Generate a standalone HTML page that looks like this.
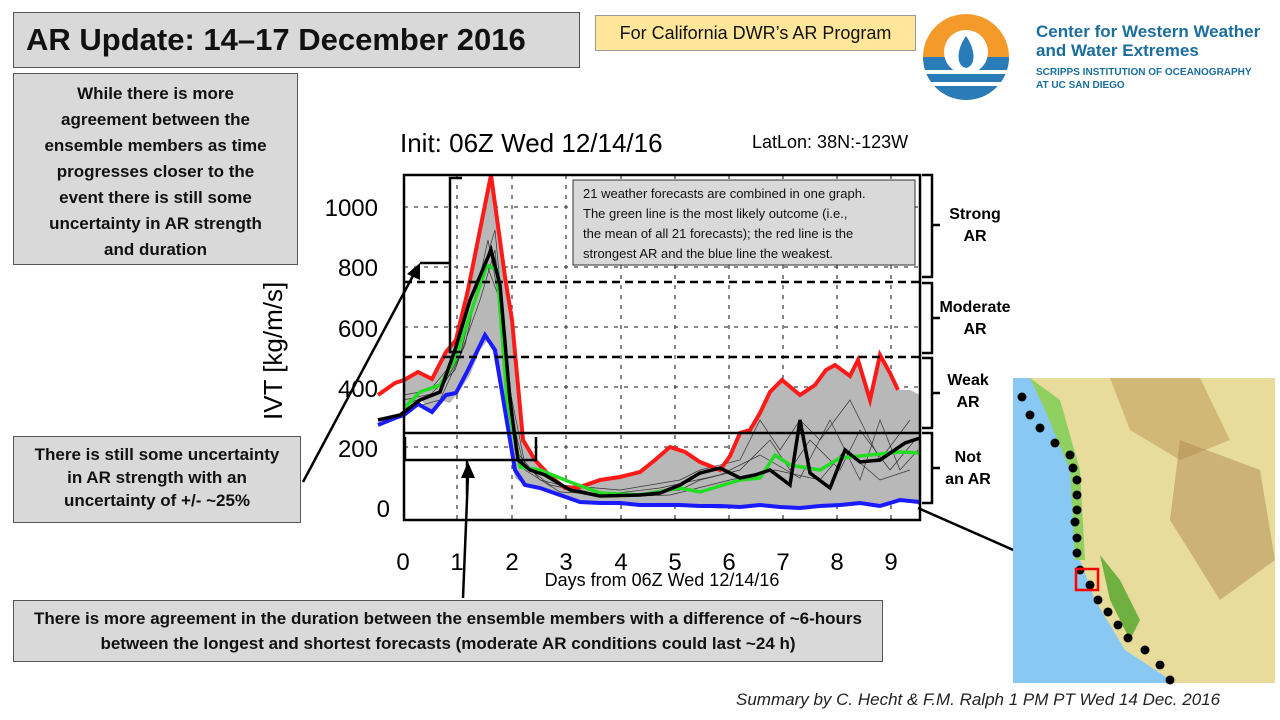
<!DOCTYPE html>
<html><head><meta charset="utf-8"><style>
body{margin:0;width:1280px;height:720px;background:#fff;position:relative;overflow:hidden;font-family:"Liberation Sans",sans-serif}
.b{position:absolute;box-sizing:border-box;border:1.5px solid #555;background:#d9d9d9;font-weight:bold;text-align:center;color:#111}
</style></head><body>
<div class="b" style="left:13px;top:12px;width:567px;height:56px;font-size:31px;line-height:54px;text-align:left;padding-left:12px">AR Update: 14–17 December 2016</div>
<div class="b" style="left:595px;top:15px;width:321px;height:36px;background:#ffe699;font-weight:normal;font-size:18px;line-height:34px;border-color:#999">For California DWR’s AR Program</div>
<div class="b" style="left:13px;top:73px;width:285px;height:192px;font-size:17px;line-height:26px;padding:7px 22px 0">While there is more agreement between the ensemble members as time progresses closer to the event there is still some uncertainty in AR strength and duration</div>
<div class="b" style="left:13px;top:436px;width:288px;height:87px;font-size:17px;line-height:23px;padding:6px 12px 0">There is still some uncertainty in AR strength with an uncertainty of +/- ~25%</div>
<div class="b" style="left:13px;top:600px;width:870px;height:62px;font-size:17px;line-height:25px;padding:5px 12px 0">There is more agreement in the duration between the ensemble members with a difference of ~6-hours between the longest and shortest forecasts (moderate AR conditions could last ~24 h)</div>
<div style="position:absolute;left:736px;top:690px;font-size:17px;font-style:italic;color:#222">Summary by C. Hecht &amp; F.M. Ralph 1 PM PT Wed 14 Dec. 2016</div>
<svg style="position:absolute;left:0;top:0" width="1280" height="720">
<circle cx="966" cy="57" r="43" fill="#f39a2b"/>
<path d="M923,57 A43,43 0 0 0 1009,57 Z" fill="#2a7cb8"/>
<rect x="923" y="70" width="86" height="4" fill="#fff"/><rect x="923" y="82" width="86" height="4" fill="#fff"/>
<circle cx="966" cy="52" r="22" fill="#fff"/><path d="M966,36 C956,50 956,66 966,68 C976,66 976,50 966,36Z" fill="#2a7cb8"/>
<text x="1036" y="37" font-size="17" fill="#1b6d9e" font-weight="bold">Center for Western Weather</text>
<text x="1036" y="56" font-size="17" fill="#1b6d9e" font-weight="bold">and Water Extremes</text>
<text x="1036" y="75" font-size="10" fill="#1b6d9e" font-weight="bold">SCRIPPS INSTITUTION OF OCEANOGRAPHY</text>
<text x="1036" y="88" font-size="10" fill="#1b6d9e" font-weight="bold">AT UC SAN DIEGO</text>
<text x="400" y="152" font-size="26">Init: 06Z Wed 12/14/16</text>
<text x="752" y="148" font-size="18">LatLon: 38N:-123W</text>
<text transform="translate(282,420) rotate(-90)" font-size="26">IVT [kg/m/s]</text>
<g font-size="24" text-anchor="end"><text x="390" y="517">0</text><text x="378" y="457">200</text><text x="378" y="397">400</text><text x="378" y="337">600</text><text x="378" y="276">800</text><text x="378" y="216">1000</text></g>
<g font-size="24" text-anchor="middle"><text x="403" y="570">0</text><text x="457" y="570">1</text><text x="512" y="570">2</text><text x="566" y="570">3</text><text x="621" y="570">4</text><text x="675" y="570">5</text><text x="729" y="570">6</text><text x="783" y="570">7</text><text x="837" y="570">8</text><text x="891" y="570">9</text></g>
<text x="662" y="586" font-size="18" text-anchor="middle">Days from 06Z Wed 12/14/16</text>
<g stroke="#444" stroke-dasharray="4,6" stroke-width="1.3">
<line x1="404" y1="207" x2="920" y2="207"/><line x1="404" y1="267" x2="920" y2="267"/><line x1="404" y1="327" x2="920" y2="327"/><line x1="404" y1="387" x2="920" y2="387"/><line x1="404" y1="447" x2="920" y2="447"/>
<line x1="457" y1="175" x2="457" y2="520"/><line x1="512" y1="175" x2="512" y2="520"/><line x1="566" y1="175" x2="566" y2="520"/><line x1="621" y1="175" x2="621" y2="520"/><line x1="675" y1="175" x2="675" y2="520"/><line x1="729" y1="175" x2="729" y2="520"/><line x1="783" y1="175" x2="783" y2="520"/><line x1="837" y1="175" x2="837" y2="520"/><line x1="891" y1="175" x2="891" y2="520"/>
</g>
<polygon fill="#b8b8b8" points="404,380 418,372 432,379 446,352 456,340 468,290 491,175 505,277 512,320 523,440 535,460 550,476 565,488 580,487 600,480 620,477 640,472 655,460 670,447 685,452 700,462 720,470 730,456 740,433 750,430 760,413 770,392 782,380 800,395 815,385 826,370 835,365 850,376 858,360 870,400 880,355 890,373 898,390 910,390 920,395 920,505 900,500 880,505 860,505 840,507 820,505 800,506 780,508 760,506 740,507 720,509 700,507 680,506 660,507 640,506 620,505 600,503 580,500 560,497 540,490 525,485 515,478 508,440 500,390 490,337 480,350 470,375 460,390 450,403 440,400 430,412 420,398 410,407 404,410"/>
<g fill="none" stroke="#333" stroke-width="0.7">
<polyline points="404,395 430,390 455,360 480,280 495,230 510,390 525,465 560,485 620,490 680,480 700,470 740,460 760,420 780,450 800,420 820,440 850,400 880,460 910,420"/>
<polyline points="404,405 430,395 455,370 480,300 495,250 510,410 525,470 560,492 620,495 680,490 700,480 740,470 770,440 790,470 810,440 840,470 860,430 890,470 915,440"/>
<polyline points="404,400 440,392 460,355 485,260 500,300 515,450 540,480 600,495 660,488 720,475 760,455 800,478 830,420 860,480 880,420 900,470 918,450"/>
<polyline points="404,410 440,400 465,345 488,240 503,320 518,460 550,485 610,497 670,495 730,480 775,470 820,480 845,450 880,480 910,470"/>
</g>
<polyline fill="none" stroke="#ff1a1a" stroke-width="4" points="378,395 395,383 404,380 418,372 432,379 446,352 456,340 468,290 491,175 505,277 512,320 523,440 535,460 550,476 565,488 580,487 600,480 620,477 640,472 655,460 670,447 685,452 700,462 720,470 730,456 740,433 750,430 760,413 770,392 782,380 800,395 815,385 826,370 835,365 850,376 858,360 870,400 880,355 890,373 898,390"/>
<polyline fill="none" stroke="#1a1aff" stroke-width="4" points="378,425 395,418 404,415 418,404 432,412 446,395 456,393 468,370 485,335 495,350 505,410 515,470 525,485 540,488 560,495 580,502 600,503 620,503 640,505 660,505 680,505 700,506 720,506 740,507 760,505 780,507 800,508 820,506 840,505 860,503 880,506 900,500 920,502"/>
<polyline fill="none" stroke="#22dd22" stroke-width="3.5" points="404,408 420,392 440,385 455,360 470,315 487,265 497,270 507,400 520,467 540,470 570,482 600,493 640,495 680,488 700,492 740,480 760,478 775,455 790,465 820,470 840,458 870,455 900,452 920,453"/>
<polyline fill="none" stroke="#000" stroke-width="3.5" points="378,420 400,415 420,400 440,392 455,350 470,300 491,250 500,285 510,400 518,460 530,470 545,475 570,490 600,496 640,495 660,493 680,485 700,473 720,468 740,478 755,475 770,470 790,485 800,420 810,473 830,488 845,450 860,462 880,460 905,443 920,438"/>
<rect x="404" y="175" width="516" height="345" fill="none" stroke="#000" stroke-width="2.5"/>
<g stroke="#000" stroke-width="2.5" stroke-dasharray="8,5"><line x1="404" y1="282" x2="920" y2="282"/><line x1="404" y1="357" x2="920" y2="357"/></g>
<line x1="404" y1="433" x2="920" y2="433" stroke="#000" stroke-width="2.5"/>
<rect x="573" y="180" width="342" height="85" fill="#d9d9d9" stroke="#333"/>
<g font-size="13" fill="#111"><text x="583" y="198">21 weather forecasts are combined in one graph.</text><text x="583" y="218">The green line is the most likely outcome (i.e.,</text><text x="583" y="238">the mean of all 21 forecasts); the red line is the</text><text x="583" y="258">strongest AR and the blue line the weakest.</text></g>
<g fill="none" stroke="#000" stroke-width="2.5">
<polyline points="462,178 450,178 450,352 462,352"/><polyline points="450,263 420,263"/>
<polyline points="405,437 405,460 536,460 536,437"/><line x1="467" y1="460" x2="467" y2="495"/>
<path d="M922,175 h10 v50 h8 M932,225 v52 h-10"/>
<path d="M922,283 h10 v35 h8 M932,318 v35 h-10"/>
<path d="M922,358 h10 v35 h8 M932,393 v35 h-10"/>
<path d="M922,433 h10 v35 h8 M932,468 v35 h-10"/>
<line x1="303" y1="482" x2="415" y2="272"/><line x1="463" y1="598" x2="468" y2="475"/><line x1="918" y1="508" x2="1070" y2="575"/>
</g>
<g fill="#000"><polygon points="420,263 407,274 420,280"/><polygon points="468,462 461,478 475,478"/><polygon points="1077,578 1060,567 1058,580"/></g>
<g font-size="16" font-weight="bold" text-anchor="middle"><text x="975" y="219">Strong</text><text x="975" y="241">AR</text><text x="975" y="312">Moderate</text><text x="975" y="334">AR</text><text x="968" y="385">Weak</text><text x="968" y="407">AR</text><text x="968" y="462">Not</text><text x="968" y="484">an AR</text></g>
<rect x="1013" y="378" width="262" height="305" fill="#e8dc9c"/>
<path d="M1013,378 H1030 L1050,420 L1078,470 L1080,560 L1095,600 L1125,650 L1175,683 H1013Z" fill="#88c8f2"/>
<path d="M1030,378 L1060,400 L1080,470 L1085,560 L1075,560 L1070,470 L1045,410Z" fill="#8fd060"/>
<path d="M1100,555 L1120,580 L1140,620 L1130,640 L1110,600Z" fill="#6fb040"/>
<path d="M1110,378 L1200,378 L1230,440 L1180,460 L1130,430Z" fill="#c8a868" opacity="0.7"/>
<path d="M1180,440 L1260,470 L1275,560 L1220,600 L1170,520Z" fill="#b08850" opacity="0.5"/>
<g fill="#000"><circle cx="1022" cy="397" r="4.5"/><circle cx="1030" cy="415" r="4.5"/><circle cx="1040" cy="428" r="4.5"/><circle cx="1055" cy="443" r="4.5"/><circle cx="1070" cy="455" r="4.5"/><circle cx="1073" cy="468" r="4.5"/><circle cx="1077" cy="480" r="4.5"/><circle cx="1077" cy="495" r="4.5"/><circle cx="1077" cy="510" r="4.5"/><circle cx="1075" cy="522" r="4.5"/><circle cx="1077" cy="538" r="4.5"/><circle cx="1077" cy="553" r="4.5"/><circle cx="1080" cy="570" r="4.5"/><circle cx="1090" cy="585" r="4.5"/><circle cx="1098" cy="600" r="4.5"/><circle cx="1108" cy="612" r="4.5"/><circle cx="1118" cy="625" r="4.5"/><circle cx="1128" cy="638" r="4.5"/><circle cx="1145" cy="650" r="4.5"/><circle cx="1160" cy="665" r="4.5"/><circle cx="1170" cy="680" r="4.5"/></g>
<rect x="1076" y="569" width="22" height="21" fill="none" stroke="#f00" stroke-width="2.5"/>
</svg>
</body></html>
